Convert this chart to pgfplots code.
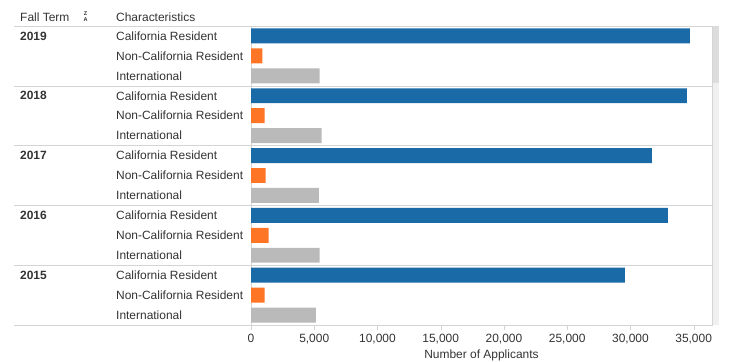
\documentclass[border=0pt]{standalone}
\usepackage{fontspec}
\setmainfont{Liberation Sans}
\usepackage{pgfplots}
\pgfplotsset{compat=1.18}
\definecolor{tblue}{HTML}{1A6AA8}
\definecolor{torange}{HTML}{FF7526}
\definecolor{tgrey}{HTML}{BABABA}
\definecolor{tline}{HTML}{D4D4D4}
\definecolor{ttext}{HTML}{333333}
\definecolor{sbtrack}{HTML}{F0F0F0}
\definecolor{sbthumb}{HTML}{DCDCDC}
\begin{document}
\fontsize{12}{14}\selectfont
\begin{tikzpicture}
\path[use as bounding box] (0,0) rectangle (734bp,-362bp);
% header
\node[anchor=west, inner sep=0pt, text=ttext] at (20bp,-17bp) {Fall Term};
\node[anchor=west, inner sep=0pt, text=ttext] at (116bp,-17bp) {Characteristics};
\node[inner sep=0pt, text=ttext, align=center, font=\fontsize{5.5}{5.5}\selectfont\bfseries] at (85.5bp,-16.5bp) {Z\\[0.3pt]A};
% scroll bar
\fill[sbtrack] (712.5bp,-26bp) rectangle (719bp,-325bp);
\fill[sbthumb] (712.5bp,-26bp) rectangle (719bp,-83bp);
\begin{axis}[
  name=main,
  scale only axis,
  width=461bp, height=299bp,
  at={(251bp,-325bp)}, anchor=south west,
  xmin=0, xmax=36450,
  ymin=-0.5, ymax=14.5,
  y dir=reverse,
  clip=false,
  axis line style={tline},
  xtick={0,5000,...,35000},
  scaled x ticks=false,
  /pgf/number format/.cd, 1000 sep={,}, assume math mode=true,
  /pgfplots/.cd,
  xtick pos=bottom,
  tick align=outside,
  major tick length=5bp,
  x tick style={tline},
  xticklabel style={text=ttext, font=\fontsize{12}{14}\selectfont},
  ytick={0,...,14},
  yticklabels={California Resident, Non-California Resident, International,
               California Resident, Non-California Resident, International,
               California Resident, Non-California Resident, International,
               California Resident, Non-California Resident, International,
               California Resident, Non-California Resident, International},
  y tick style={draw=none},
  yticklabel style={anchor=west, inner sep=0pt, xshift=-130bp, text=ttext, font=\fontsize{12}{14}\selectfont},
  xlabel={Number of Applicants},
  xlabel style={text=ttext, font=\fontsize{12}{14}\selectfont, yshift=2bp},
  xbar, bar shift=0pt, bar width=0.75,
]
\addplot[fill=tblue, draw=none] coordinates {(34700,0) (34470,3) (31700,6) (32960,9) (29560,12)};
\addplot[fill=torange, draw=none] coordinates {(900,1) (1080,4) (1160,7) (1400,10) (1080,13)};
\addplot[fill=tgrey, draw=none] coordinates {(5430,2) (5590,5) (5360,8) (5430,11) (5120,14)};
% separators
\draw[tline] (axis cs:36450,-0.5) -- ([xshift=-237bp]axis cs:0,-0.5);
\draw[tline] (axis cs:36450,2.5) -- ([xshift=-237bp]axis cs:0,2.5);
\draw[tline] (axis cs:36450,5.5) -- ([xshift=-237bp]axis cs:0,5.5);
\draw[tline] (axis cs:36450,8.5) -- ([xshift=-237bp]axis cs:0,8.5);
\draw[tline] (axis cs:36450,11.5) -- ([xshift=-237bp]axis cs:0,11.5);
\draw[tline] (axis cs:36450,14.5) -- ([xshift=-237bp]axis cs:0,14.5);
\node[anchor=west, inner sep=0pt, font=\bfseries, text=ttext] at ([xshift=-231bp]axis cs:0,0) {2019};
\node[anchor=west, inner sep=0pt, font=\bfseries, text=ttext] at ([xshift=-231bp]axis cs:0,3) {2018};
\node[anchor=west, inner sep=0pt, font=\bfseries, text=ttext] at ([xshift=-231bp]axis cs:0,6) {2017};
\node[anchor=west, inner sep=0pt, font=\bfseries, text=ttext] at ([xshift=-231bp]axis cs:0,9) {2016};
\node[anchor=west, inner sep=0pt, font=\bfseries, text=ttext] at ([xshift=-231bp]axis cs:0,12) {2015};
\end{axis}
\end{tikzpicture}
\end{document}
